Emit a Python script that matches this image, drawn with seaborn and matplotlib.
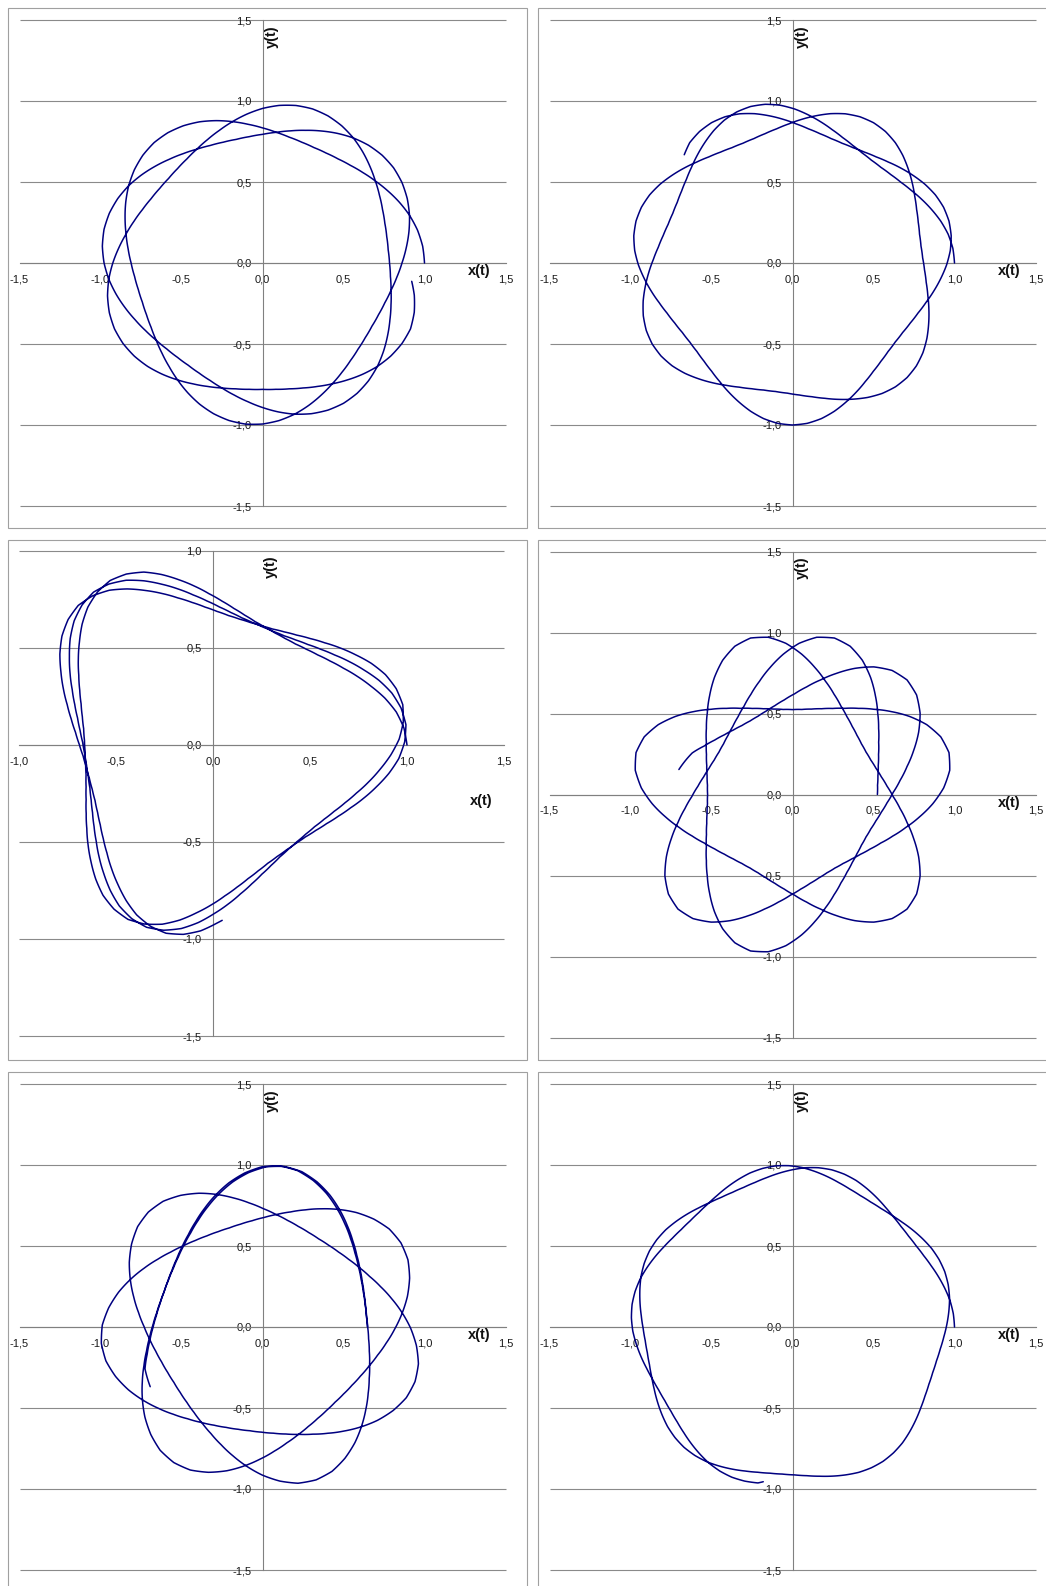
import numpy as np
import matplotlib
matplotlib.use("Agg")
import matplotlib.pyplot as plt
from matplotlib.patches import Rectangle
from matplotlib.ticker import FuncFormatter
import seaborn as sns

# Orbit traces, stored as polar angle (degrees,
# counted along the path) and distance from the origin.
P1_THETA = [0, 6, 12, 18, 24, 30, 36, 42, 48, 54, 60, 66, 72, 78, 84, 90, 96, 102, 108, 114, 120, 126,
            132, 138, 144, 150, 156, 162, 168, 174, 180, 186, 192, 198, 204, 210, 216, 222, 228, 234, 240, 246, 252, 258,
            264, 270, 276, 282, 288, 294, 300, 306, 312, 318, 324, 330, 336, 342, 348, 354, 360, 366, 372, 378, 384, 390,
            396, 402, 408, 414, 420, 426, 432, 438, 444, 450, 456, 462, 468, 474, 480, 486, 492, 498, 504, 510, 516, 522,
            528, 534, 540, 546, 552, 558, 564, 570, 576, 582, 588, 594, 600, 606, 612, 618, 624, 630, 636, 642, 648, 654,
            660, 666, 672, 678, 684, 690, 696, 702, 708, 714, 720, 726, 732, 738, 744, 750, 756, 762, 768, 774, 780, 786,
            792, 798, 804, 810, 816, 822, 828, 834, 840, 846, 852, 858, 864, 870, 876, 882, 888, 894, 900, 906, 912, 918,
            924, 930, 936, 942, 948, 954, 960, 966, 972, 978, 984, 990, 996, 1002, 1008, 1014, 1020, 1026, 1032, 1038, 1044, 1050,
            1056, 1062, 1068, 1073]
P1_R = [1.000, 0.994, 0.978, 0.954, 0.924, 0.892, 0.861, 0.834, 0.811, 0.794, 0.784, 0.780, 0.784, 0.794, 0.811, 0.834, 0.861, 0.892, 0.924, 0.954, 0.978, 0.994,
        1.000, 0.994, 0.978, 0.954, 0.924, 0.892, 0.861, 0.834, 0.811, 0.794, 0.784, 0.780, 0.784, 0.794, 0.811, 0.834, 0.861, 0.892, 0.924, 0.954, 0.978, 0.994,
        1.000, 0.994, 0.978, 0.954, 0.924, 0.892, 0.861, 0.834, 0.811, 0.794, 0.784, 0.780, 0.784, 0.794, 0.811, 0.834, 0.861, 0.892, 0.924, 0.954, 0.978, 0.994,
        1.000, 0.994, 0.978, 0.954, 0.924, 0.892, 0.861, 0.834, 0.811, 0.794, 0.784, 0.780, 0.784, 0.794, 0.811, 0.834, 0.861, 0.892, 0.924, 0.954, 0.978, 0.994,
        1.000, 0.994, 0.978, 0.954, 0.924, 0.892, 0.861, 0.834, 0.811, 0.794, 0.784, 0.780, 0.784, 0.794, 0.811, 0.834, 0.861, 0.892, 0.924, 0.954, 0.978, 0.994,
        1.000, 0.994, 0.978, 0.954, 0.924, 0.892, 0.861, 0.834, 0.811, 0.794, 0.784, 0.780, 0.784, 0.794, 0.811, 0.834, 0.861, 0.892, 0.924, 0.954, 0.978, 0.994,
        1.000, 0.994, 0.978, 0.954, 0.924, 0.892, 0.861, 0.834, 0.811, 0.794, 0.784, 0.780, 0.784, 0.794, 0.811, 0.834, 0.861, 0.892, 0.924, 0.954, 0.978, 0.994,
        1.000, 0.994, 0.978, 0.954, 0.924, 0.892, 0.861, 0.834, 0.811, 0.794, 0.784, 0.780, 0.784, 0.794, 0.811, 0.834, 0.861, 0.892, 0.924, 0.954, 0.978, 0.994,
        1.000, 0.985, 0.958, 0.928]

P2_THETA = [0, 5.25, 10.5, 15.75, 21, 26.25, 31.5, 36.75, 42, 47.25, 52.5, 57.75, 63, 68.25, 73.5, 78.75, 84, 89.25, 94.5, 99.75,
            105, 110.25, 115.5, 120.75, 126, 131.25, 136.5, 141.75, 147, 152.25, 157.5, 162.75, 168, 173.25, 178.5, 183.75, 189, 194.25, 199.5, 204.75,
            210, 215.25, 220.5, 225.75, 231, 236.25, 241.5, 246.75, 252, 257.25, 262.5, 267.75, 273, 278.25, 283.5, 288.75, 294, 299.25, 304.5, 309.75,
            315, 320.25, 325.5, 330.75, 336, 341.25, 346.5, 351.75, 357, 362.25, 367.5, 372.75, 378, 383.25, 388.5, 393.75, 399, 404.25, 409.5, 414.75,
            420, 425.25, 430.5, 435.75, 441, 446.25, 451.5, 456.75, 462, 467.25, 472.5, 477.75, 483, 488.25, 493.5, 498.75, 504, 509.25, 514.5, 519.75,
            525, 530.25, 535.5, 540.75, 546, 551.25, 556.5, 561.75, 567, 572.25, 577.5, 582.75, 588, 593.25, 598.5, 603.75, 609, 614.25, 619.5, 624.75,
            630, 635.25, 640.5, 645.75, 651, 656.25, 661.5, 666.75, 672, 677.25, 682.5, 687.75, 693, 698.25, 703.5, 708.75, 714, 719.25, 724.5, 729.75,
            735, 740.25, 745.5, 750.75, 756, 761.25, 766.5, 771.75, 777, 782.25, 787.5, 792.75, 798, 803.25, 808.5, 813.75, 819, 824.25, 829.5, 834.75,
            840, 845.25, 850.5, 855]
P2_R = [1.000, 0.994, 0.977, 0.951, 0.920, 0.889, 0.859, 0.834, 0.816, 0.804, 0.800, 0.804, 0.816, 0.834, 0.859, 0.889, 0.920, 0.951, 0.977, 0.994,
        1.000, 0.994, 0.977, 0.951, 0.920, 0.889, 0.859, 0.834, 0.816, 0.804, 0.800, 0.804, 0.816, 0.834, 0.859, 0.889, 0.920, 0.951, 0.977, 0.994,
        1.000, 0.994, 0.977, 0.951, 0.920, 0.889, 0.859, 0.834, 0.816, 0.804, 0.800, 0.804, 0.816, 0.834, 0.859, 0.889, 0.920, 0.951, 0.977, 0.994,
        1.000, 0.994, 0.977, 0.951, 0.920, 0.889, 0.859, 0.834, 0.816, 0.804, 0.800, 0.804, 0.816, 0.834, 0.859, 0.889, 0.920, 0.951, 0.977, 0.994,
        1.000, 0.994, 0.977, 0.951, 0.920, 0.889, 0.859, 0.834, 0.816, 0.804, 0.800, 0.804, 0.816, 0.834, 0.859, 0.889, 0.920, 0.951, 0.977, 0.994,
        1.000, 0.994, 0.977, 0.951, 0.920, 0.889, 0.859, 0.834, 0.816, 0.804, 0.800, 0.804, 0.816, 0.834, 0.859, 0.889, 0.920, 0.951, 0.977, 0.994,
        1.000, 0.994, 0.977, 0.951, 0.920, 0.889, 0.859, 0.834, 0.816, 0.804, 0.800, 0.804, 0.816, 0.834, 0.859, 0.889, 0.920, 0.951, 0.977, 0.994,
        1.000, 0.994, 0.977, 0.951, 0.920, 0.889, 0.859, 0.834, 0.816, 0.804, 0.800, 0.804, 0.816, 0.834, 0.859, 0.889, 0.920, 0.951, 0.977, 0.994,
        1.000, 0.994, 0.977, 0.945]

P3_THETA = [0, 5.1, 10.2, 15.3, 20.3, 25.4, 30.5, 35.6, 40.7, 45.8, 50.8, 55.9, 61, 66.1, 71.2, 76.3, 81.3, 86.4, 91.5, 96.6, 101.7, 106.8, 111.8, 116.9,
            122, 127.1, 132.2, 137.3, 142.3, 147.4, 152.5, 157.6, 162.7, 167.8, 172.8, 177.9, 183, 188.1, 193.2, 198.3, 203.3, 208.4, 213.5, 218.6, 223.7, 228.8, 233.8, 238.9,
            244, 249.1, 254.2, 259.3, 264.3, 269.4, 274.5, 279.6, 284.7, 289.8, 294.8, 299.9, 305, 310.1, 315.2, 320.3, 325.3, 330.4, 335.5, 340.6, 345.7, 350.8, 355.8, 360.9,
            366, 371.1, 376.2, 381.3, 386.3, 391.4, 396.5, 401.6, 406.7, 411.8, 416.8, 421.9, 427, 432.1, 437.2, 442.3, 447.3, 452.4, 457.5, 462.6, 467.7, 472.8, 477.8, 482.9,
            488, 493.1, 498.2, 503.3, 508.3, 513.4, 518.5, 523.6, 528.7, 533.8, 538.8, 543.9, 549, 554.1, 559.2, 564.3, 569.3, 574.4, 579.5, 584.6, 589.7, 594.8, 599.8, 604.9,
            610, 615.1, 620.2, 625.3, 630.3, 635.4, 640.5, 645.6, 650.7, 655.8, 660.8, 665.9, 671, 676.1, 681.2, 686.3, 691.3, 696.4, 701.5, 706.6, 711.7, 716.8, 721.8, 726.9,
            732, 737.1, 742.2, 747.3, 752.3, 757.4, 762.5, 767.6, 772.7, 777.8, 782.8, 787.9, 793, 798.1, 803.2, 808.3, 813.3, 818.4, 823.5, 828.6, 833.7, 838.8, 843.8, 848.9,
            854, 859.1, 864.2, 869.3, 874.3, 879.4, 884.5, 889.6, 894.7, 899.8, 904.8, 909.9, 915, 920.1, 925.2, 930.3, 935.3, 940.4, 945.5, 950.6, 955.7, 960.8, 965.8, 970.9,
            976, 981.1, 986.2, 991.3, 993]
P3_R = [1.000, 0.988, 0.960, 0.918, 0.870, 0.824, 0.780, 0.743, 0.712, 0.689, 0.672, 0.663, 0.660, 0.663, 0.672, 0.689, 0.712, 0.743, 0.780, 0.824, 0.870, 0.918, 0.960, 0.988,
        1.000, 0.988, 0.960, 0.918, 0.870, 0.824, 0.780, 0.743, 0.712, 0.689, 0.672, 0.663, 0.660, 0.663, 0.672, 0.689, 0.712, 0.743, 0.780, 0.824, 0.870, 0.918, 0.960, 0.988,
        1.000, 0.988, 0.960, 0.918, 0.870, 0.824, 0.780, 0.743, 0.712, 0.689, 0.672, 0.663, 0.660, 0.663, 0.672, 0.689, 0.712, 0.743, 0.780, 0.824, 0.870, 0.918, 0.960, 0.988,
        1.000, 0.988, 0.960, 0.918, 0.870, 0.824, 0.780, 0.743, 0.712, 0.689, 0.672, 0.663, 0.660, 0.663, 0.672, 0.689, 0.712, 0.743, 0.780, 0.824, 0.870, 0.918, 0.960, 0.988,
        1.000, 0.988, 0.960, 0.918, 0.870, 0.824, 0.780, 0.743, 0.712, 0.689, 0.672, 0.663, 0.660, 0.663, 0.672, 0.689, 0.712, 0.743, 0.780, 0.824, 0.870, 0.918, 0.960, 0.988,
        1.000, 0.988, 0.960, 0.918, 0.870, 0.824, 0.780, 0.743, 0.712, 0.689, 0.672, 0.663, 0.660, 0.663, 0.672, 0.689, 0.712, 0.743, 0.780, 0.824, 0.870, 0.918, 0.960, 0.988,
        1.000, 0.988, 0.960, 0.918, 0.870, 0.824, 0.780, 0.743, 0.712, 0.689, 0.672, 0.663, 0.660, 0.663, 0.672, 0.689, 0.712, 0.743, 0.780, 0.824, 0.870, 0.918, 0.960, 0.988,
        1.000, 0.988, 0.960, 0.918, 0.870, 0.824, 0.780, 0.743, 0.712, 0.689, 0.672, 0.663, 0.660, 0.663, 0.672, 0.689, 0.712, 0.743, 0.780, 0.824, 0.870, 0.918, 0.960, 0.988,
        1.000, 0.988, 0.960, 0.918, 0.905]

P4_THETA = [0, 6.25, 12.5, 18.75, 25, 31.25, 37.5, 43.75, 50, 56.25, 62.5, 68.75, 75, 81.25, 87.5, 93.75, 100, 106.25, 112.5, 118.75, 125, 131.25, 137.5, 143.75,
            150, 156.25, 162.5, 168.75, 175, 181.25, 187.5, 193.75, 200, 206.25, 212.5, 218.75, 225, 231.25, 237.5, 243.75, 250, 256.25, 262.5, 268.75, 275, 281.25, 287.5, 293.75,
            300, 306.25, 312.5, 318.75, 325, 331.25, 337.5, 343.75, 350, 356.25, 362.5, 368.75, 375, 381.25, 387.5, 393.75, 400, 406.25, 412.5, 418.75, 425, 431.25, 437.5, 443.75,
            450, 456.25, 462.5, 468.75, 475, 481.25, 487.5, 493.75, 500, 506.25, 512.5, 518.75, 525, 531.25, 537.5, 543.75, 550, 556.25, 562.5, 568.75, 575, 581.25, 587.5, 593.75,
            600, 606.25, 612.5, 618.75, 625, 631.25, 637.5, 643.75, 650, 656.25, 662.5, 668.75, 675, 681.25, 687.5, 693.75, 700, 706.25, 712.5, 718.75, 725, 731.25, 737.5, 743.75,
            750, 756.25, 762.5, 768.75, 775, 781.25, 787.5, 793.75, 800, 806.25, 812.5, 818.75, 825, 831.25, 837.5, 843.75, 850, 856.25, 862.5, 868.75, 875, 881.25, 887.5, 893.75,
            900, 906.25, 912.5, 918.75, 925, 931.25, 937.5, 943.75, 950, 956.25, 962.5, 968.75, 975, 981.25, 987.5, 993.75, 1000, 1006.25, 1012.5, 1018.75, 1025, 1031.25, 1037.5, 1043.75,
            1050, 1056.25, 1062.5, 1068.75, 1075, 1081.25, 1087.5, 1093.75, 1100, 1106.25, 1112.5, 1118.75, 1125, 1131.25, 1137.5, 1143.75, 1150, 1156.25, 1162.5, 1168.75, 1175, 1181.25, 1187.5, 1193.75,
            1200, 1206.25, 1212.5, 1218.75, 1225, 1231.25, 1237.5, 1247.6]
P4_R = [0.524, 0.528, 0.540, 0.559, 0.586, 0.622, 0.670, 0.728, 0.796, 0.868, 0.934, 0.982, 1.000, 0.982, 0.934, 0.868, 0.796, 0.728, 0.670, 0.622, 0.586, 0.559, 0.540, 0.528,
        0.524, 0.528, 0.540, 0.559, 0.586, 0.622, 0.670, 0.728, 0.796, 0.868, 0.934, 0.982, 1.000, 0.982, 0.934, 0.868, 0.796, 0.728, 0.670, 0.622, 0.586, 0.559, 0.540, 0.528,
        0.524, 0.528, 0.540, 0.559, 0.586, 0.622, 0.670, 0.728, 0.796, 0.868, 0.934, 0.982, 1.000, 0.982, 0.934, 0.868, 0.796, 0.728, 0.670, 0.622, 0.586, 0.559, 0.540, 0.528,
        0.524, 0.528, 0.540, 0.559, 0.586, 0.622, 0.670, 0.728, 0.796, 0.868, 0.934, 0.982, 1.000, 0.982, 0.934, 0.868, 0.796, 0.728, 0.670, 0.622, 0.586, 0.559, 0.540, 0.528,
        0.524, 0.528, 0.540, 0.559, 0.586, 0.622, 0.670, 0.728, 0.796, 0.868, 0.934, 0.982, 1.000, 0.982, 0.934, 0.868, 0.796, 0.728, 0.670, 0.622, 0.586, 0.559, 0.540, 0.528,
        0.524, 0.528, 0.540, 0.559, 0.586, 0.622, 0.670, 0.728, 0.796, 0.868, 0.934, 0.982, 1.000, 0.982, 0.934, 0.868, 0.796, 0.728, 0.670, 0.622, 0.586, 0.559, 0.540, 0.528,
        0.524, 0.528, 0.540, 0.559, 0.586, 0.622, 0.670, 0.728, 0.796, 0.868, 0.934, 0.982, 1.000, 0.982, 0.934, 0.868, 0.796, 0.728, 0.670, 0.622, 0.586, 0.559, 0.540, 0.528,
        0.524, 0.528, 0.540, 0.559, 0.586, 0.622, 0.670, 0.728, 0.796, 0.868, 0.934, 0.982, 1.000, 0.982, 0.934, 0.868, 0.796, 0.728, 0.670, 0.622, 0.586, 0.559, 0.540, 0.528,
        0.524, 0.528, 0.540, 0.559, 0.586, 0.622, 0.670, 0.718]

P5_THETA = [0,
            5, 11.4, 17.9, 24.3, 30.8, 37.2, 43.6, 50.1, 56.5, 62.9, 69.4, 75.8, 82.3, 88.7, 95.1, 101.6, 108, 114.4, 120.9, 127.3, 133.8, 140.2, 146.6, 153.1,
            159.5, 165.9, 172.4, 178.8, 185.3, 191.7, 198.1, 204.6, 211, 217.4, 223.9, 230.3, 236.8, 243.2, 249.6, 256.1, 262.5, 268.9, 275.4, 281.8, 288.3, 294.7, 301.1, 307.6,
            314, 320.4, 326.9, 333.3, 339.8, 346.2, 352.6, 359.1, 365.5, 371.9, 378.4, 384.8, 391.3, 397.7, 404.1, 410.6, 417, 423.4, 429.9, 436.3, 442.8, 449.2, 455.6, 462.1,
            468.5, 474.9, 481.4, 487.8, 494.3, 500.7, 507.1, 513.6, 520, 526.4, 532.9, 539.3, 545.8, 552.2, 558.6, 565.1, 571.5, 577.9, 584.4, 590.8, 597.3, 603.7, 610.1, 616.6,
            623, 629.4, 635.9, 642.3, 648.8, 655.2, 661.6, 668.1, 674.5, 680.9, 687.4, 693.8, 700.3, 706.7, 713.1, 719.6, 726, 732.4, 738.9, 745.3, 751.8, 758.2, 764.6, 771.1,
            777.5, 783.9, 790.4, 796.8, 803.3, 809.7, 816.1, 822.6, 829, 835.4, 841.9, 848.3, 854.8, 861.2, 867.6, 874.1, 880.5, 886.9, 893.4, 899.8, 906.3, 912.7, 919.1, 925.6,
            932, 938.4, 944.9, 951.3, 957.8, 964.2, 970.6, 977.1, 983.5, 989.9, 996.4, 1002.8, 1009.3, 1015.7, 1022.1, 1028.6, 1035, 1041.4, 1047.9, 1054.3, 1060.8, 1067.2, 1073.6, 1080.1,
            1086.5, 1092.9, 1099.4, 1105.8, 1112.3, 1118.7, 1125.1, 1131.6, 1138, 1144.4, 1150.9, 1157.3, 1163.8, 1170.2, 1176.6, 1183.1, 1189.5, 1195.9, 1202.4, 1208.8, 1215.3, 1221.7, 1228.1, 1234.6,
            1241, 1247.4, 1253.9, 1260.3, 1266.8, 1273.2, 1279.6, 1288]
P5_R = [0.648,
        0.645, 0.649, 0.659, 0.676, 0.700, 0.731, 0.770, 0.816, 0.865, 0.914, 0.957, 0.989, 1.000, 0.989, 0.957, 0.914, 0.865, 0.816, 0.770, 0.731, 0.700, 0.676, 0.659, 0.649,
        0.645, 0.649, 0.659, 0.676, 0.700, 0.731, 0.770, 0.816, 0.865, 0.914, 0.957, 0.989, 1.000, 0.989, 0.957, 0.914, 0.865, 0.816, 0.770, 0.731, 0.700, 0.676, 0.659, 0.649,
        0.645, 0.649, 0.659, 0.676, 0.700, 0.731, 0.770, 0.816, 0.865, 0.914, 0.957, 0.989, 1.000, 0.989, 0.957, 0.914, 0.865, 0.816, 0.770, 0.731, 0.700, 0.676, 0.659, 0.649,
        0.645, 0.649, 0.659, 0.676, 0.700, 0.731, 0.770, 0.816, 0.865, 0.914, 0.957, 0.989, 1.000, 0.989, 0.957, 0.914, 0.865, 0.816, 0.770, 0.731, 0.700, 0.676, 0.659, 0.649,
        0.645, 0.649, 0.659, 0.676, 0.700, 0.731, 0.770, 0.816, 0.865, 0.914, 0.957, 0.989, 1.000, 0.989, 0.957, 0.914, 0.865, 0.816, 0.770, 0.731, 0.700, 0.676, 0.659, 0.649,
        0.645, 0.649, 0.659, 0.676, 0.700, 0.731, 0.770, 0.816, 0.865, 0.914, 0.957, 0.989, 1.000, 0.989, 0.957, 0.914, 0.865, 0.816, 0.770, 0.731, 0.700, 0.676, 0.659, 0.649,
        0.645, 0.649, 0.659, 0.676, 0.700, 0.731, 0.770, 0.816, 0.865, 0.914, 0.957, 0.989, 1.000, 0.989, 0.957, 0.914, 0.865, 0.816, 0.770, 0.731, 0.700, 0.676, 0.659, 0.649,
        0.645, 0.649, 0.659, 0.676, 0.700, 0.731, 0.770, 0.816, 0.865, 0.914, 0.957, 0.989, 1.000, 0.989, 0.957, 0.914, 0.865, 0.816, 0.770, 0.731, 0.700, 0.676, 0.659, 0.649,
        0.645, 0.649, 0.659, 0.676, 0.700, 0.731, 0.770, 0.785]

P6_THETA = [0, 4.75, 9.5, 14.25, 19, 23.75, 28.5, 33.25, 38, 42.75, 47.5, 52.25, 57, 61.75, 66.5, 71.25,
            76, 80.75, 85.5, 90.25, 95, 99.75, 104.5, 109.25, 114, 118.75, 123.5, 128.25, 133, 137.75, 142.5, 147.25,
            152, 156.75, 161.5, 166.25, 171, 175.75, 180.5, 185.25, 190, 194.75, 199.5, 204.25, 209, 213.75, 218.5, 223.25,
            228, 232.75, 237.5, 242.25, 247, 251.75, 256.5, 261.25, 266, 270.75, 275.5, 280.25, 285, 289.75, 294.5, 299.25,
            304, 308.75, 313.5, 318.25, 323, 327.75, 332.5, 337.25, 342, 346.75, 351.5, 356.25, 361, 365.75, 370.5, 375.25,
            380, 384.75, 389.5, 394.25, 399, 403.75, 408.5, 413.25, 418, 422.75, 427.5, 432.25, 437, 441.75, 446.5, 451.25,
            456, 460.75, 465.5, 470.25, 475, 479.75, 484.5, 489.25, 494, 498.75, 503.5, 508.25, 513, 517.75, 522.5, 527.25,
            532, 536.75, 541.5, 546.25, 551, 555.75, 560.5, 565.25, 570, 574.75, 579.5, 584.25, 589, 593.75, 598.5, 603.25,
            608, 612.75, 617.5, 619.3]
P6_R = [1.000, 0.996, 0.986, 0.970, 0.953, 0.936, 0.922, 0.913, 0.910, 0.913, 0.922, 0.936, 0.953, 0.970, 0.986, 0.996,
        1.000, 0.996, 0.986, 0.970, 0.953, 0.936, 0.922, 0.913, 0.910, 0.913, 0.922, 0.936, 0.953, 0.970, 0.986, 0.996,
        1.000, 0.996, 0.986, 0.970, 0.953, 0.936, 0.922, 0.913, 0.910, 0.913, 0.922, 0.936, 0.953, 0.970, 0.986, 0.996,
        1.000, 0.996, 0.986, 0.970, 0.953, 0.936, 0.922, 0.913, 0.910, 0.913, 0.922, 0.936, 0.953, 0.970, 0.986, 0.996,
        1.000, 0.996, 0.986, 0.970, 0.953, 0.936, 0.922, 0.913, 0.910, 0.913, 0.922, 0.936, 0.953, 0.970, 0.986, 0.996,
        1.000, 0.996, 0.986, 0.970, 0.953, 0.936, 0.922, 0.913, 0.910, 0.913, 0.922, 0.936, 0.953, 0.970, 0.986, 0.996,
        1.000, 0.996, 0.986, 0.970, 0.953, 0.936, 0.922, 0.913, 0.910, 0.913, 0.922, 0.936, 0.953, 0.970, 0.986, 0.996,
        1.000, 0.996, 0.986, 0.970, 0.953, 0.936, 0.922, 0.913, 0.910, 0.913, 0.922, 0.936, 0.953, 0.970, 0.986, 0.996,
        1.000, 0.996, 0.986, 0.972]

TICKS_FULL = [-1.5, -1.0, -0.5, 0.0, 0.5, 1.0, 1.5]
X_TICKS_P3 = [-1.0, -0.5, 0.0, 0.5, 1.0, 1.5]
Y_TICKS_P3 = [-1.5, -1.0, -0.5, 0.0, 0.5, 1.0]

W, H = 1046, 1586
CURVE = "#000080"
GRID = "#8a8a8a"
AXIS = "#808080"
BORDER = "#a0a0a0"

sns.set_theme(style="white")
plt.rcParams["font.family"] = ["Liberation Sans", "DejaVu Sans"]
# keep every traced vertex (no path simplification in angle/radius space)
plt.rcParams["path.simplify"] = False

fig = plt.figure(figsize=(W / 100, H / 100), dpi=100)


def comma(v, pos=None):
    return f"{v:.1f}".replace(".", ",")


def draw_panel(theta, r, origin, scale, xticks, yticks, box, xlab, ylab):
    ox, oy = origin
    x0, x1 = xticks[0], xticks[-1]
    y0, y1 = yticks[0], yticks[-1]
    pad = 0.04

    # chart frame
    bx0, by0, bx1, by1 = box
    fig.add_artist(Rectangle((bx0 / W, 1 - by1 / H), (bx1 - bx0) / W, (by1 - by0) / H,
                             transform=fig.transFigure, fill=False,
                             edgecolor=BORDER, linewidth=0.8))

    # cartesian axes crossing at the origin
    left = ox + (x0 - pad) * scale
    right = ox + (x1 + pad) * scale
    top = oy - (y1 + pad) * scale
    bottom = oy - (y0 - pad) * scale
    ax = fig.add_axes([left / W, 1 - bottom / H, (right - left) / W, (bottom - top) / H])
    ax.set_xlim(x0 - pad, x1 + pad)
    ax.set_ylim(y0 - pad, y1 + pad)
    ax.patch.set_visible(False)
    for side in ("top", "right"):
        ax.spines[side].set_visible(False)
    for side in ("left", "bottom"):
        ax.spines[side].set_position(("data", 0))
        ax.spines[side].set_color(AXIS)
        ax.spines[side].set_linewidth(0.8)
    ax.spines["bottom"].set_bounds(x0, x1)
    ax.spines["left"].set_bounds(y0, y1)
    ax.hlines(yticks, x0, x1, color=GRID, linewidth=0.8, zorder=0.5)
    ax.set_xticks(xticks)
    ax.set_yticks(yticks)
    ax.xaxis.set_major_formatter(FuncFormatter(comma))
    ax.yaxis.set_major_formatter(FuncFormatter(comma))
    ax.tick_params(direction="out", length=3, width=0.8, color=AXIS,
                   labelsize=8, labelcolor="#1a1a1a", pad=5)
    ax.text(xlab[0], xlab[1], "x(t)", ha="center", va="center",
            fontsize=10.5, fontweight="bold", color="#111111")
    ax.text(ylab[0], ylab[1], "y(t)", ha="center", va="center", rotation=90,
            fontsize=10.5, fontweight="bold", color="#111111")

    # the trace itself, on a transparent polar axes sharing origin and scale
    R = 1.6
    half = R * scale
    pax = fig.add_axes([(ox - half) / W, 1 - (oy + half) / H, 2 * half / W, 2 * half / H],
                       projection="polar")
    sns.lineplot(x=np.deg2rad(theta), y=r, sort=False, estimator=None, ax=pax,
                 color=CURVE, linewidth=1.1)
    # draw each step between traced points as a smooth polar segment
    line = pax.lines[-1]
    line.get_path()._interpolation_steps = 8
    line.set_data(*line.get_data())
    pax.set_xlim(0, 2 * np.pi)
    pax.set_ylim(0, R)
    pax.patch.set_visible(False)
    pax.axis("off")


draw_panel(P1_THETA, P1_R, (262.5, 263.0), 162.0, TICKS_FULL, TICKS_FULL,
           (8, 8, 527, 528), (1.34, -0.05), (0.06, 1.40))
draw_panel(P2_THETA, P2_R, (792.5, 263.0), 162.0, TICKS_FULL, TICKS_FULL,
           (538, 8, 1060, 528), (1.34, -0.05), (0.06, 1.40))
draw_panel(P3_THETA, P3_R, (213.0, 745.0), 194.0, X_TICKS_P3, Y_TICKS_P3,
           (8, 540, 527, 1060), (1.38, -0.29), (0.30, 0.92))
draw_panel(P4_THETA, P4_R, (792.5, 794.5), 162.0, TICKS_FULL, TICKS_FULL,
           (538, 540, 1060, 1060), (1.34, -0.05), (0.06, 1.40))
draw_panel(P5_THETA, P5_R, (262.5, 1327.0), 162.0, TICKS_FULL, TICKS_FULL,
           (8, 1072, 527, 1600), (1.34, -0.05), (0.06, 1.40))
draw_panel(P6_THETA, P6_R, (792.5, 1327.0), 162.0, TICKS_FULL, TICKS_FULL,
           (538, 1072, 1060, 1600), (1.34, -0.05), (0.06, 1.40))

fig.savefig("out.png", dpi=100, facecolor="white")
